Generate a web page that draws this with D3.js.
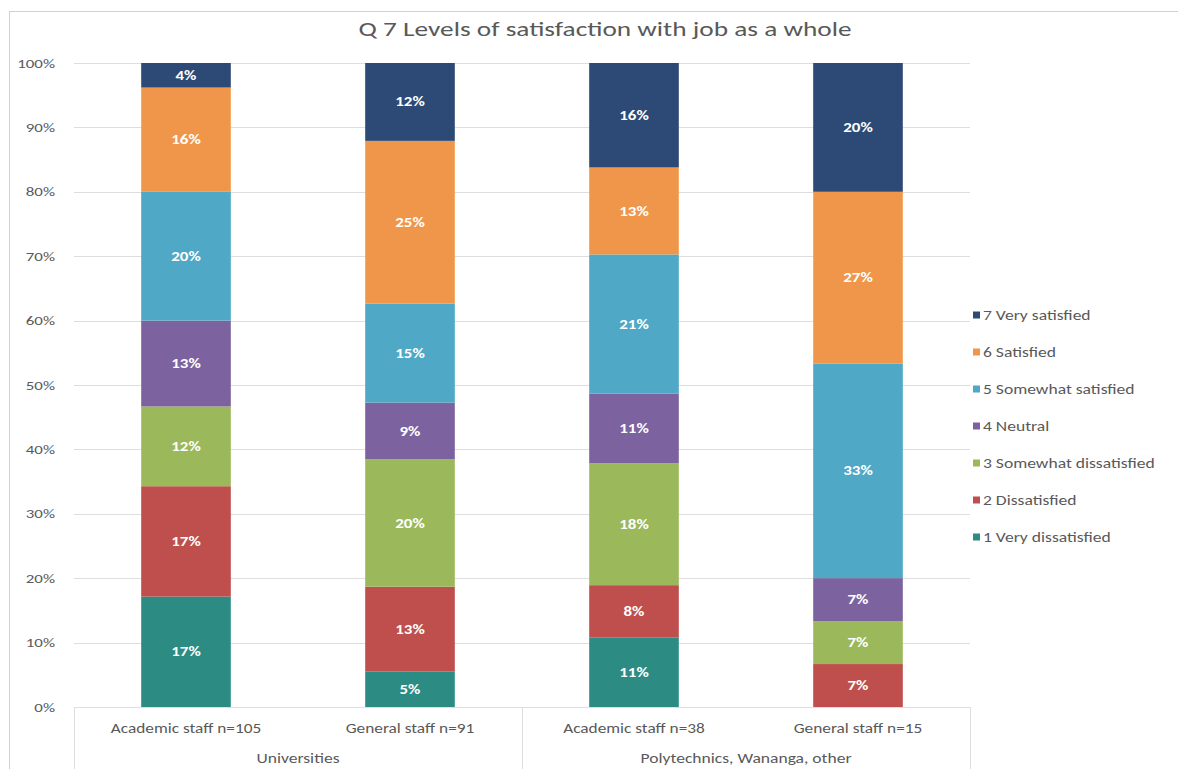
<!DOCTYPE html>
<html>
<head>
<meta charset="utf-8">
<script src="https://cdn.jsdelivr.net/npm/d3@7"></script>
<style>
  html, body { margin: 0; padding: 0; background: #fff; }
  svg { display: block; font-family: Carlito, Calibri, Lato, "Open Sans", sans-serif; }
</style>
</head>
<body>
<svg id="chart" width="1178" height="769"></svg>
<script>
// Staff groups along the category axis (two levels)
const categories = ["Academic staff n=105", "General staff n=91", "Academic staff n=38", "General staff n=15"];
const groups = ["Universities", "Polytechnics, Wananga, other"];
const groupOf = [0, 0, 1, 1];

// Response levels, bottom of the stack first
const seriesNames = ["1 Very dissatisfied", "2 Dissatisfied", "3 Somewhat dissatisfied", "4 Neutral",
                     "5 Somewhat satisfied", "6 Satisfied", "7 Very satisfied"];

// Percent of respondents in each staff group giving each response
const veryDissatisfied     = [17.14, 5.49, 10.53, 0];
const dissatisfied         = [17.14, 13.19, 7.89, 6.67];
const somewhatDissatisfied = [12.38, 19.78, 18.42, 6.67];
const neutral              = [13.33, 8.79, 10.53, 6.67];
const somewhatSatisfied    = [20.00, 15.38, 21.05, 33.33];
const satisfied            = [16.19, 25.27, 13.16, 26.67];
const verySatisfied        = [3.81, 12.09, 15.79, 20.00];

const yTicks = [0, 0.1, 0.2, 0.3, 0.4, 0.5, 0.6, 0.7, 0.8, 0.9, 1.0];

const seriesValues = [veryDissatisfied, dissatisfied, somewhatDissatisfied, neutral,
                      somewhatSatisfied, satisfied, verySatisfied];
const colors = ["#2c8c84", "#be4f4c", "#9bb85a", "#7d62a0", "#4fa8c5", "#f0964a", "#2d4a77"];

const rows = categories.map((c, i) => {
  const r = { category: c };
  seriesNames.forEach((s, k) => { r[s] = seriesValues[k][i]; });
  return r;
});

const svg = d3.select("#chart");
const textColor = "#595959";
const gridColor = "#dedede";
const textStretch = 1.3;   // wide-set lettering

// Chart area frame
svg.append("rect")
  .attr("x", 9.5).attr("y", 11.5)
  .attr("width", 1300).attr("height", 900)
  .attr("fill", "none").attr("stroke", "#d0d0d0").attr("stroke-width", 1);

// Title
svg.append("text")
  .attr("x", 605).attr("y", 36)
  .attr("text-anchor", "middle")
  .attr("fill", textColor)
  .style("font-size", "21px")
  .text("Q 7 Levels of satisfaction with job as a whole");

const plot = { left: 74, right: 970, top: 63, bottom: 707 };

const x = d3.scaleBand()
  .domain(categories)
  .range([plot.left, plot.right])
  .paddingInner(0.6)
  .paddingOuter(0.3);

const y = d3.scaleLinear().domain([0, 1]).range([plot.bottom, plot.top]);

// Horizontal gridlines
svg.append("g")
  .selectAll("line")
  .data(yTicks.slice(1))
  .join("line")
  .attr("x1", plot.left).attr("x2", plot.right)
  .attr("y1", d => Math.round(y(d)) + 0.5).attr("y2", d => Math.round(y(d)) + 0.5)
  .attr("stroke", gridColor).attr("stroke-width", 1);

// Percentage axis
const yAxis = svg.append("g")
  .attr("transform", `translate(${plot.left - 19},0)`)
  .call(d3.axisLeft(y).tickValues(yTicks).tickFormat(d3.format(".0%")).tickSize(0).tickPadding(0));
yAxis.select(".domain").remove();
yAxis.selectAll("text")
  .attr("fill", textColor)
  .style("font-size", "13px")
  .style("font-family", "Carlito, Calibri, Lato, sans-serif");

// Stacked 100% columns
const stack = d3.stack().keys(seriesNames).offset(d3.stackOffsetExpand);
const layers = stack(rows);

const layerG = svg.append("g")
  .selectAll("g")
  .data(layers)
  .join("g")
  .attr("fill", (d, i) => colors[i]);

layerG.selectAll("rect")
  .data(d => d.map(p => ({ p, key: d.key })))
  .join("rect")
  .attr("x", d => x(d.p.data.category))
  .attr("width", x.bandwidth())
  .attr("y", d => y(d.p[1]))
  .attr("height", d => y(d.p[0]) - y(d.p[1]));

// Value labels centred in each segment
layerG.selectAll("text")
  .data(d => d.map(p => ({ p, key: d.key })).filter(d => d.p.data[d.key] > 0))
  .join("text")
  .attr("x", d => x(d.p.data.category) + x.bandwidth() / 2)
  .attr("y", d => (y(d.p[0]) + y(d.p[1])) / 2)
  .attr("dy", "0.35em")
  .attr("text-anchor", "middle")
  .attr("fill", "#ffffff")
  .style("font-size", "13px")
  .style("font-weight", "600")
  .text(d => Math.round(d.p.data[d.key]) + "%");

// Category axis line and group dividers
svg.append("line")
  .attr("x1", plot.left).attr("x2", plot.right)
  .attr("y1", plot.bottom + 0.5).attr("y2", plot.bottom + 0.5)
  .attr("stroke", gridColor);

const dividers = [plot.left, (plot.left + plot.right) / 2, plot.right];
svg.append("g")
  .selectAll("line")
  .data(dividers)
  .join("line")
  .attr("x1", d => d + 0.5).attr("x2", d => d + 0.5)
  .attr("y1", plot.bottom).attr("y2", 769)
  .attr("stroke", gridColor);

// First level: staff group labels
svg.append("g")
  .selectAll("text")
  .data(categories)
  .join("text")
  .attr("x", d => x(d) + x.bandwidth() / 2)
  .attr("y", 733)
  .attr("text-anchor", "middle")
  .attr("fill", textColor)
  .style("font-size", "13.3px")
  .text(d => d);

// Second level: institution type
svg.append("g")
  .selectAll("text")
  .data(groups)
  .join("text")
  .attr("x", (d, gi) => {
    const cats = categories.filter((c, i) => groupOf[i] === gi);
    return (x(cats[0]) + x(cats[cats.length - 1]) + x.bandwidth()) / 2;
  })
  .attr("y", 763)
  .attr("text-anchor", "middle")
  .attr("fill", textColor)
  .style("font-size", "13.5px")
  .text(d => d);

// Legend, top item = top of the stack
const legendItems = seriesNames.map((s, i) => ({ s, c: colors[i] })).reverse();
const legend = svg.append("g")
  .selectAll("g")
  .data(legendItems)
  .join("g")
  .attr("transform", (d, i) => `translate(973,${315 + i * 37})`);
legend.append("rect")
  .attr("x", 0).attr("y", -3.5)
  .attr("width", 7).attr("height", 7)
  .attr("fill", d => d.c);
legend.append("text")
  .attr("x", 10).attr("dy", "0.35em")
  .attr("fill", textColor)
  .style("font-size", "13.5px")
  .text(d => d.s);

// Widen all lettering horizontally
svg.selectAll("text").each(function () {
  const w = this.getComputedTextLength();
  if (w > 0) {
    this.setAttribute("textLength", (w * textStretch).toFixed(1));
    this.setAttribute("lengthAdjust", "spacingAndGlyphs");
  }
});
</script>
</body>
</html>
